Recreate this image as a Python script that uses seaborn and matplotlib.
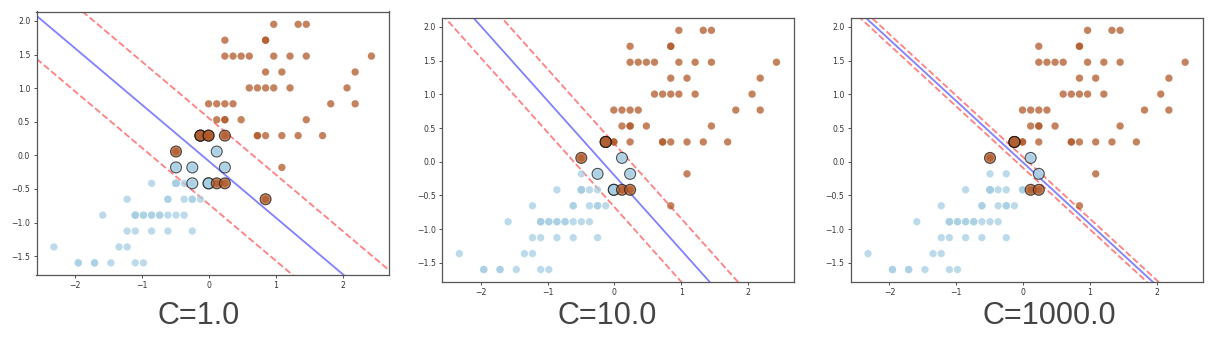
import numpy as np
import pandas as pd
import matplotlib
matplotlib.use("Agg")
import matplotlib.pyplot as plt
import seaborn as sns

# Iris petal length / width: versicolor (class 0) and virginica (class 1)
versicolor_length = [4.7, 4.5, 4.9, 4.0, 4.6, 4.5, 4.7, 3.3, 4.6, 3.9, 3.5, 4.2, 4.0, 4.7, 3.6, 4.4, 4.5,
                     4.1, 4.5, 3.9, 4.8, 4.0, 4.9, 4.7, 4.3, 4.4, 4.8, 5.0, 4.5, 3.5, 3.8, 3.7, 3.9, 5.1,
                     4.5, 4.5, 4.7, 4.4, 4.1, 4.0, 4.4, 4.6, 4.0, 3.3, 4.2, 4.2, 4.2, 4.3, 3.0, 4.1]
versicolor_width = [1.4, 1.5, 1.5, 1.3, 1.5, 1.3, 1.6, 1.0, 1.3, 1.4, 1.0, 1.5, 1.0, 1.4, 1.3, 1.4, 1.5,
                    1.0, 1.5, 1.1, 1.8, 1.3, 1.5, 1.2, 1.3, 1.4, 1.4, 1.7, 1.5, 1.0, 1.1, 1.0, 1.2, 1.6,
                    1.5, 1.6, 1.5, 1.3, 1.3, 1.3, 1.2, 1.4, 1.2, 1.0, 1.3, 1.2, 1.3, 1.3, 1.1, 1.3]
virginica_length = [6.0, 5.1, 5.9, 5.6, 5.8, 6.6, 4.5, 6.3, 5.8, 6.1, 5.1, 5.3, 5.5, 5.0, 5.1, 5.3, 5.5,
                    6.7, 6.9, 5.0, 5.7, 4.9, 6.7, 4.9, 5.7, 6.0, 4.8, 4.9, 5.6, 5.8, 6.1, 6.4, 5.6, 5.1,
                    5.6, 6.1, 5.6, 5.5, 4.8, 5.4, 5.6, 5.1, 5.1, 5.9, 5.7, 5.2, 5.0, 5.2, 5.4, 5.1]
virginica_width = [2.5, 1.9, 2.1, 1.8, 2.2, 2.1, 1.7, 1.8, 1.8, 2.5, 2.0, 1.9, 2.1, 2.0, 2.4, 2.3, 1.8,
                   2.2, 2.3, 1.5, 2.3, 2.0, 2.0, 1.8, 2.1, 1.8, 1.8, 1.8, 2.1, 1.6, 1.9, 2.0, 2.2, 1.5,
                   1.4, 2.3, 2.4, 1.8, 1.8, 2.1, 2.4, 2.3, 1.9, 2.3, 2.5, 2.3, 1.9, 2.0, 2.3, 1.8]

# Highlighted (support) points per panel: raw petal length, width, class
sv_c1_length = [4.8, 4.8, 4.8, 4.9, 4.9, 5.1, 4.5, 5.0, 4.5, 4.7, 5.1, 4.7, 4.9, 4.9, 5.0, 5.1, 5.6]
sv_c1_width = [1.8, 1.8, 1.8, 1.8, 1.8, 1.8, 1.7, 1.7, 1.6, 1.6, 1.6, 1.5, 1.5, 1.5, 1.5, 1.5, 1.4]
sv_c1_class = [0, 1, 1, 1, 1, 1, 1, 0, 0, 0, 0, 0, 0, 0, 1, 1, 1]

sv_c10_length = [4.8, 4.8, 4.8, 4.5, 5.0, 4.7, 5.1, 4.9, 4.9, 5.0, 5.1]
sv_c10_width = [1.8, 1.8, 1.8, 1.7, 1.7, 1.6, 1.6, 1.5, 1.5, 1.5, 1.5]
sv_c10_class = [0, 1, 1, 1, 0, 0, 0, 0, 0, 1, 1]

sv_c1000_length = [4.8, 4.8, 4.8, 4.5, 5.0, 5.1, 5.0, 5.1]
sv_c1000_width = [1.8, 1.8, 1.8, 1.7, 1.7, 1.6, 1.5, 1.5]
sv_c1000_class = [0, 1, 1, 1, 0, 0, 1, 1]

# Linear decision function coefficients (w0, w1, b)
titles = ["C=1.0", "C=10.0", "C=1000.0"]
coef_w0 = [1.31, 2.36, 11.4]
coef_w1 = [1.56, 2.13, 12.5]
coef_b = [0.14, 0.43, 0.14]

# ---------------------------------------------------------------
length_all = np.array(versicolor_length + virginica_length)
width_all = np.array(versicolor_width + virginica_width)
cls_all = np.array([0] * len(versicolor_length) + [1] * len(virginica_length))
mu_l, sd_l = length_all.mean(), length_all.std()
mu_w, sd_w = width_all.mean(), width_all.std()

df = pd.DataFrame({"x": (length_all - mu_l) / sd_l, "y": (width_all - mu_w) / sd_w, "cls": cls_all})

sv_sets = [(sv_c1_length, sv_c1_width, sv_c1_class),
           (sv_c10_length, sv_c10_width, sv_c10_class),
           (sv_c1000_length, sv_c1000_width, sv_c1000_class)]

palette = {0: "#a6cee3", 1: "#b15928"}

W, H = 1226, 340
fig = plt.figure(figsize=(W / 100, H / 100), dpi=100)
fig.patch.set_facecolor("white")

boxes = [(36.5, 11.5, 389.0, 275.0), (442.0, 17.5, 794.0, 281.7), (850.7, 17.5, 1202.7, 281.7)]
title_x = [199, 607, 1049]
xlim = (-2.58, 2.69)
ylim = (-1.78, 2.14)

for i, (l, t, r, b) in enumerate(boxes):
    ax = fig.add_axes([l / W, (H - b) / H, (r - l) / W, (b - t) / H])
    sns.scatterplot(data=df, x="x", y="y", hue="cls", palette=palette, s=28, alpha=0.75,
                    linewidth=0, legend=False, ax=ax, zorder=2)
    svl, svw, svc = sv_sets[i]
    sv_df = pd.DataFrame({"x": (np.array(svl) - mu_l) / sd_l,
                          "y": (np.array(svw) - mu_w) / sd_w, "cls": svc})
    sns.scatterplot(data=sv_df, x="x", y="y", hue="cls", palette=palette, s=62, alpha=0.72,
                    edgecolor="#111111", linewidth=0.8, legend=False, ax=ax, zorder=3)
    xs = np.array(xlim)
    w0, w1, b0 = coef_w0[i], coef_w1[i], coef_b[i]
    center = -(w0 * xs + b0) / w1
    margin = 1.0 / w1
    sns.lineplot(x=xs, y=center, color="#8080ff", linewidth=1.3, ax=ax, zorder=1, sort=False,
                 estimator=None)
    sns.lineplot(x=xs, y=center + margin, color="#ff8080", linewidth=1.3, linestyle="--", ax=ax,
                 zorder=1, sort=False, estimator=None)
    sns.lineplot(x=xs, y=center - margin, color="#ff8080", linewidth=1.3, linestyle="--", ax=ax,
                 zorder=1, sort=False, estimator=None)
    ax.set_xlim(*xlim)
    ax.set_ylim(*ylim)
    ax.set_xticks([-2, -1, 0, 1, 2])
    ax.set_yticks([-1.5, -1.0, -0.5, 0.0, 0.5, 1.0, 1.5, 2.0])
    ax.set_xlabel("")
    ax.set_ylabel("")
    ax.tick_params(labelsize=5.6, length=2.5, width=0.6, colors="#333333", pad=2)
    for sp in ax.spines.values():
        sp.set_color("#555555")
        sp.set_linewidth(0.9)
    fig.text(title_x[i] / W, 1 - 316 / H, titles[i], ha="center", va="center",
             fontsize=22, color="#444444", family="Liberation Sans")

fig.savefig("out.png", dpi=100, facecolor="white")
